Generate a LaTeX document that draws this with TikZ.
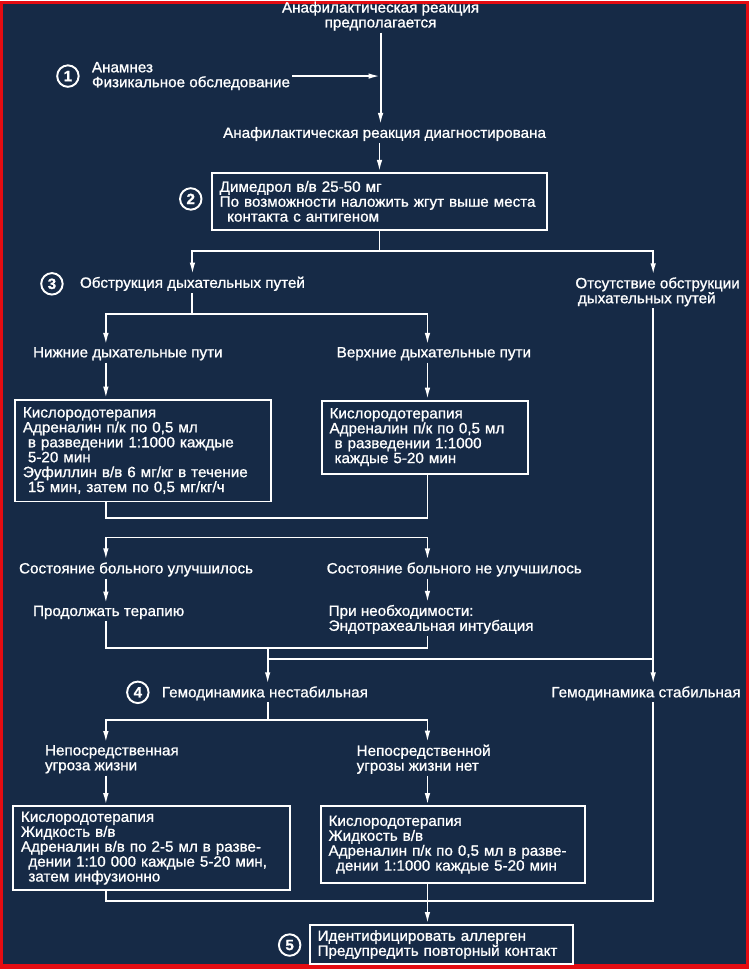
\documentclass[tikz,border=0pt]{standalone}
\usepackage{fontspec}
\setmainfont[FakeStretch=1.02, FakeBold=1]{Liberation Sans}
\usetikzlibrary{arrows.meta}
\definecolor{BgNavy}{RGB}{22,42,70}
\definecolor{FrameRed}{RGB}{228,12,18}
\newcommand{\ftx}{\fontsize{8.5}{8.5}\selectfont}

\begin{document}
\begin{tikzpicture}[x=0.02cm, y=-0.02cm,
    lbl/.style={text=white, font=\ftx, inner sep=1pt, anchor=west, align=left},
    box/.style={draw=white, line width=1.1pt, text=white, font=\ftx, anchor=north west,
                align=left, inner xsep=0.16cm, inner ysep=0pt},
    num/.style={circle, draw=white, line width=1.1pt, text=white, font=\ftx\bfseries,
                minimum size=0.43cm, inner sep=0pt},
    con/.style={white, line width=1.1pt},
    arr/.style={con, -{Latex[length=2.4mm, width=1.1mm]}}]

    % Frame and background
    \fill[FrameRed] (0,0) rectangle (750,969);
    \fill[BgNavy] (3,3) rectangle (747,964);

    % Columns
    \coordinate (colL) at (106,0);
    \coordinate (colR) at (428,0);
    \coordinate (colE) at (654,0);

    % Diagnosis
    \node[lbl, anchor=center, align=center] (suspect) at (381,15) {Анафилактическая реакция\\предполагается};
    \node[num] (n1) at (68,75) {1};
    \node[lbl] (hist) at (90,75) {Анамнез\\Физикальное обследование};
    \node[lbl, anchor=center] (diag) at (385,133) {Анафилактическая реакция диагностирована};

    \draw[arr] (suspect.south) -- (suspect.south |- diag.north);
    \draw[arr] (hist.east) -- (hist.east -| suspect.south);

    % Step 2
    \node[box, text width=6.4cm, minimum height=1.14cm] (dimedrol) at (211,171)
        {Димедрол в/в 25-50 мг\\
         По возможности наложить жгут выше места\\
         \hspace*{1.5mm}контакта с антигеном};
    \node[num] (n2) at (191,198) {2};

    \draw[arr] (diag.south -| dimedrol.north) -- (dimedrol.north);

    % Airway
    \node[num] (n3) at (52,283) {3};
    \node[lbl] (obstr) at (78,283) {Обструкция дыхательных путей};
    \node[lbl] (noobstr) at (574,291) {Отсутствие обструкции\\\hspace*{0.5mm}дыхательных путей};

    \path (dimedrol.south) ++(0,20) coordinate (j1);
    \draw[con] (dimedrol.south) -- (j1);
    \draw[arr] (j1) -| (obstr.north);
    \draw[arr] (j1) -| (colE |- noobstr.north);

    \node[lbl] (lower) at (31,353) {Нижние дыхательные пути};
    \node[lbl] (upper) at (335,353) {Верхние дыхательные пути};

    \path (obstr.south) ++(0,21) coordinate (j2);
    \draw[con] (obstr.south) -- (j2);
    \draw[arr] (j2) -| (colL |- lower.north);
    \draw[arr] (j2) -| (colR |- upper.north);

    \node[box, text width=4.8cm, minimum height=2.04cm] (boxL1) at (14,398)
        {Кислородотерапия\\
         Адреналин п/к по 0,5 мл\\
         \hspace*{1mm}в разведении 1:1000 каждые\\
         \hspace*{1mm}5-20 мин\\
         Эуфиллин в/в 6 мг/кг в течение\\
         \hspace*{1mm}15 мин, затем по 0,5 мг/кг/ч};
    \node[box, text width=3.82cm, minimum height=1.46cm] (boxR1) at (321,399)
        {Кислородотерапия\\
         Адреналин п/к по 0,5 мл\\
         \hspace*{1mm}в разведении 1:1000\\
         \hspace*{1mm}каждые 5-20 мин};

    \draw[arr] (colL |- lower.south) -- (colL |- boxL1.north);
    \draw[arr] (colR |- upper.south) -- (colR |- boxR1.north);

    % Merge, then split
    \coordinate (m1) at (268,517);
    \draw[con] (colL |- boxL1.south) -- (colL |- m1) -- (colR |- m1) -- (colR |- boxR1.south);

    \node[lbl] (better) at (17,569) {Состояние больного улучшилось};
    \node[lbl] (worse) at (325,569) {Состояние больного не улучшилось};
    \node[lbl] (cont) at (31,612) {Продолжать терапию};
    \node[lbl] (intub) at (327,619) {При необходимости:\\Эндотрахеальная интубация};

    \coordinate (s2) at (268,537);
    \draw[arr] (s2) -| (colL |- better.north);
    \draw[arr] (s2) -| (colR |- worse.north);
    \draw[arr] (colL |- better.south) -- (colL |- cont.north);
    \draw[arr] (colR |- worse.south) -- (colR |- intub.north);

    % Hemodynamics
    \node[num] (n4) at (138,692) {4};
    \node[lbl] (unstab) at (160,693) {Гемодинамика нестабильная};
    \node[lbl] (stab) at (550,693) {Гемодинамика стабильная};

    \coordinate (m2) at (268,648);
    \coordinate (j4) at (268,659);
    \draw[con] (colL |- cont.south) |- (m2);
    \draw[con] (colR |- intub.south) |- (m2);
    \draw[arr] (m2) -- (m2 |- unstab.north);
    \draw[con] (j4) -- (colE |- j4);
    \draw[arr] (colE |- noobstr.south) -- (colE |- stab.north);

    \node[lbl] (threat) at (43,759) {Непосредственная\\угроза жизни};
    \node[lbl] (nothreat) at (355,759) {Непосредственной\\угрозы жизни нет};

    \coordinate (s3) at (268,720);
    \draw[con] (m2 |- unstab.south) -- (s3);
    \draw[arr] (s3) -| (colL |- threat.north);
    \draw[arr] (s3) -| (colR |- nothreat.north);

    \node[box, text width=5.22cm, minimum height=1.68cm] (boxL2) at (12,805)
        {Кислородотерапия\\
         Жидкость в/в\\
         Адреналин в/в по 2-5 мл в разве-\\
         \hspace*{1.5mm}дении 1:10 000 каждые 5-20 мин,\\
         \hspace*{1.5mm}затем инфузионно};
    \node[box, text width=4.98cm, minimum height=1.54cm] (boxR2) at (320,805)
        {Кислородотерапия\\
         Жидкость в/в\\
         Адреналин п/к по 0,5 мл в разве-\\
         \hspace*{1.5mm}дении 1:1000 каждые 5-20 мин};

    \draw[arr] (colL |- threat.south) -- (colL |- boxL2.north);
    \draw[arr] (colR |- nothreat.south) -- (colR |- boxR2.north);

    % Step 5
    \node[box, text width=4.96cm, minimum height=0.78cm] (boxID) at (309,924)
        {Идентифицировать аллерген\\
         Предупредить повторный контакт};
    \node[num] (n5) at (290,945) {5};

    \coordinate (m3) at (106,901);
    \draw[con] (colL |- boxL2.south) -- (m3) -- (colE |- m3) -- (colE |- stab.south);
    \draw[arr] (colR |- boxR2.south) -- (colR |- boxID.north);
\end{tikzpicture}
\end{document}
